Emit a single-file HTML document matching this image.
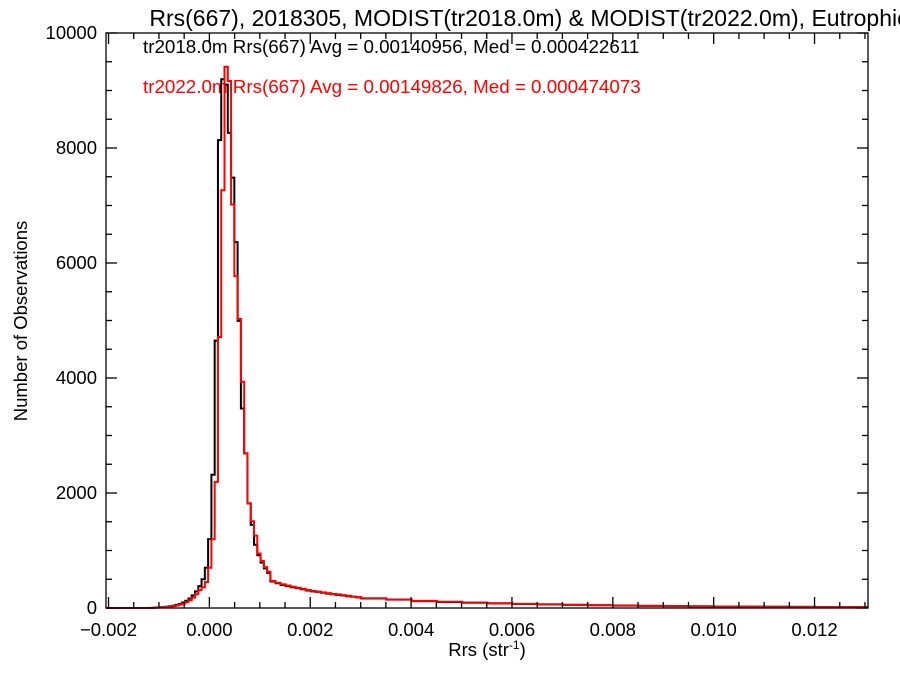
<!DOCTYPE html>
<html><head><meta charset="utf-8"><style>
html,body{margin:0;padding:0;background:#fff;}
svg{display:block;font-family:"Liberation Sans",Arial,sans-serif;}
</style></head><body>
<svg id="chart" width="900" height="675" viewBox="0 0 900 675" xmlns="http://www.w3.org/2000/svg">
<text x="529" y="26" font-size="23" text-anchor="middle" fill="#000">Rrs(667), 2018305, MODIST(tr2018.0m) &amp; MODIST(tr2022.0m), Eutrophic</text>
<text x="143" y="53" font-size="18.8" fill="#000">tr2018.0m Rrs(667) Avg = 0.00140956, Med = 0.000422611</text>
<text x="143" y="93" font-size="18.8" fill="#ff0000">tr2022.0m Rrs(667) Avg = 0.00149826, Med = 0.000474073</text>
<text transform="translate(27,321) rotate(-90)" font-size="18.5" text-anchor="middle" fill="#000">Number of Observations</text>
<text x="487" y="656" font-size="18.5" text-anchor="middle" fill="#000">Rrs (str<tspan font-size="12" dy="-7">-1</tspan><tspan dy="7">)</tspan></text>
<g id="series"></g>
<g id="axes"></g>
</svg>
<script>
const fineStart = -0.00113;
const fineWidth = 0.000065;
const blackFine = [5,8,12,16,22,30,40,55,70,95,125,165,220,290,380,500,700,1197,2317,4651,8137,9196,9102,8262,7484,6363,4994,3469,2690,1820,1445,1100,917,790,690,610];
const redFine = [4,6,9,13,18,24,32,44,58,78,100,135,180,240,310,360,450,700,1197,2193,4714,7266,9414,9165,7017,5772,5025,3935,2690,1820,1508,1259,948,820,710,630];
const midStart = 0.00121;
const midWidth = 0.0001;
const blackMid = [460,430,400,380,360,345,325,305,290,280,265,250,240,228,218,205,195,185];
const redMid = [472,440,412,392,370,352,335,312,298,285,272,258,246,236,224,212,200,190];
const tailStart = 0.00301;
const tailWidth = 0.0005;
const blackTail = [165,145,120,105,92,80,70,62,55,48,42,37,33,29,26,23,21,19,17,15,14];
const redTail = [170,148,124,108,95,82,72,64,56,50,44,38,34,30,27,24,22,19,17,15,14];
const xTicks = [-0.002,0.000,0.002,0.004,0.006,0.008,0.010,0.012];
const xTickLabels = ["\u22120.002","0.000","0.002","0.004","0.006","0.008","0.010","0.012"];
const yTicks = [0,2000,4000,6000,8000,10000];
const yTickLabels = ["0","2000","4000","6000","8000","10000"];

const X0=106, X1=868, Y0=608, Y1=33;
const xMin=-0.00205, xMax=0.01306, yMin=0, yMax=10000;
const sx = v => X0 + (v-xMin)/(xMax-xMin)*(X1-X0);
const sy = v => Y0 - (v-yMin)/(yMax-yMin)*(Y0-Y1);
const NS="http://www.w3.org/2000/svg";

function buildPath(fine, mid, tail){
  let bins=[];
  fine.forEach((c,i)=>bins.push([fineStart+i*fineWidth, fineStart+(i+1)*fineWidth, c]));
  mid.forEach((c,i)=>bins.push([midStart+i*midWidth, midStart+(i+1)*midWidth, c]));
  tail.forEach((c,i)=>bins.push([tailStart+i*tailWidth, Math.min(xMax,tailStart+(i+1)*tailWidth), c]));
  let d = "M"+sx(xMin)+","+sy(0)+" L"+sx(bins[0][0])+","+sy(0);
  bins.forEach(b=>{ if(b[0]>=xMax) return; d+=" L"+sx(b[0]).toFixed(2)+","+sy(b[2]).toFixed(2)+" L"+sx(b[1]).toFixed(2)+","+sy(b[2]).toFixed(2); });
  return d;
}
const sg=document.getElementById('series');
const pb=document.createElementNS(NS,'path');


pb.setAttribute('d',buildPath(blackFine,blackMid,blackTail));
pb.setAttribute('fill','none');pb.setAttribute('stroke','#000');pb.setAttribute('stroke-width','2');
sg.appendChild(pb);
const pr=document.createElementNS(NS,'path');


pr.setAttribute('d',buildPath(redFine,redMid,redTail));
pr.setAttribute('fill','none');pr.setAttribute('stroke','#ff0000');pr.setAttribute('stroke-width','2');
sg.appendChild(pr);

const ag=document.getElementById('axes');
function line(x1,y1,x2,y2,name){
  const l=document.createElementNS(NS,'line');
  
  
  l.setAttribute('x1',x1);l.setAttribute('y1',y1);l.setAttribute('x2',x2);l.setAttribute('y2',y2);
  l.setAttribute('stroke','#000');l.setAttribute('stroke-width','1.3');
  ag.appendChild(l);
}
function text(x,y,s,anchor,name){
  const t=document.createElementNS(NS,'text');
  
  
  t.setAttribute('x',x);t.setAttribute('y',y);t.setAttribute('font-size','18.5');t.setAttribute('text-anchor',anchor);
  t.textContent=s;ag.appendChild(t);
}
const frame=document.createElementNS(NS,'rect');


frame.setAttribute('x',X0);frame.setAttribute('y',Y1);frame.setAttribute('width',X1-X0);frame.setAttribute('height',Y0-Y1);
frame.setAttribute('fill','none');frame.setAttribute('stroke','#000');frame.setAttribute('stroke-width','1.3');
ag.appendChild(frame);
xTicks.forEach((v,i)=>{
  const x=sx(v);
  line(x,Y0,x,Y0-11,'x-tick');
  line(x,Y1,x,Y1+11,'x-tick-top');
  text(x,Y0+28,xTickLabels[i],'middle','x-tick-label');
  for(let k=1;k<4;k++){const xm=sx(v+k*0.0005); if(xm<X1){line(xm,Y0,xm,Y0-6,'x-minor-tick');line(xm,Y1,xm,Y1+6,'x-minor-tick-top');}}
});
yTicks.forEach((v,i)=>{
  const y=sy(v);
  line(X0,y,X0+11,y,'y-tick');
  line(X1,y,X1-11,y,'y-tick-right');
  text(X0-9,y+6,yTickLabels[i],'end','y-tick-label');
  if(v<10000){for(let k=1;k<4;k++){const ym=sy(v+k*500);line(X0,ym,X0+6,ym,'y-minor-tick');line(X1,ym,X1-6,ym,'y-minor-tick-right');}}
});
</script>
</body></html>
